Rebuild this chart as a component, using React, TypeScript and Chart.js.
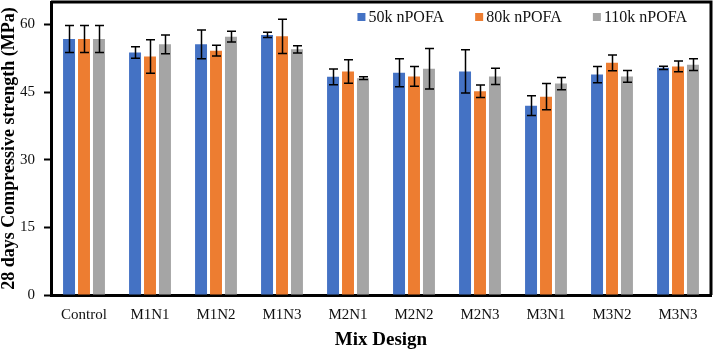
import React, { useEffect, useRef } from "react";
import { Chart, registerables } from "chart.js";

Chart.register(...registerables);

const categories = ["Control", "M1N1", "M1N2", "M1N3", "M2N1", "M2N2", "M2N3", "M3N1", "M3N2", "M3N3"];
const seriesNames = ["50k nPOFA", "80k nPOFA", "110k nPOFA"];
const values50 = [56.8, 53.8, 55.6, 57.7, 48.4, 49.3, 49.6, 42.0, 48.9, 50.4];
const values80 = [56.8, 52.9, 54.2, 57.4, 49.6, 48.5, 45.2, 44.0, 51.5, 50.7];
const values110 = [56.8, 55.6, 57.3, 54.5, 48.1, 50.2, 48.5, 46.9, 48.5, 51.1];
const errors50 = [3.0, 1.3, 3.2, 0.6, 1.75, 3.1, 4.8, 2.2, 1.8, 0.35];
const errors80 = [3.0, 3.7, 1.2, 3.8, 2.6, 2.2, 1.4, 2.9, 1.75, 1.2];
const errors110 = [3.0, 2.1, 1.2, 0.8, 0.3, 4.5, 1.8, 1.35, 1.3, 1.3];
const colors = ["#4472C4", "#ED7D31", "#A5A5A5"];
const yTickStep = 15;
const yMax = 65;

const FONT = "'Liberation Serif', 'Times New Roman', serif";

const errorBarPlugin = {
  id: "errorBars",
  afterDatasetsDraw(chart: any) {
    const ctx = chart.ctx;
    const yScale = chart.scales.y;
    const allErrors = [errors50, errors80, errors110];
    ctx.save();
    ctx.strokeStyle = "#000";
    ctx.lineWidth = 1.5;
    chart.data.datasets.forEach((ds: any, i: number) => {
      const meta = chart.getDatasetMeta(i);
      meta.data.forEach((el: any, j: number) => {
        const v = ds.data[j];
        const e = allErrors[i][j];
        const x = Math.round(el.x) + 0.5;
        const yt = yScale.getPixelForValue(v + e);
        const yb = yScale.getPixelForValue(v - e);
        const cap = 4.5;
        ctx.beginPath();
        ctx.moveTo(x, yt);
        ctx.lineTo(x, yb);
        ctx.moveTo(x - cap, yt);
        ctx.lineTo(x + cap, yt);
        ctx.moveTo(x - cap, yb);
        ctx.lineTo(x + cap, yb);
        ctx.stroke();
      });
    });
    ctx.restore();
  },
};

const framePlugin = {
  id: "frame",
  afterDraw(chart: any) {
    const { ctx, chartArea } = chart;
    ctx.save();
    ctx.strokeStyle = "#000";
    ctx.lineWidth = 3;
    ctx.beginPath();
    ctx.moveTo(chartArea.left, chartArea.top);
    ctx.lineTo(chartArea.right, chartArea.top);
    ctx.lineTo(chartArea.right, chartArea.bottom);
    ctx.stroke();
    ctx.restore();
  },
};

const legendPlugin = {
  id: "customLegend",
  afterDraw(chart: any) {
    const { ctx, chartArea } = chart;
    ctx.save();
    ctx.font = `16px ${FONT}`;
    ctx.textBaseline = "middle";
    const box = 8;
    const gapText = 3;
    const gapItem = 31;
    const datasets = chart.data.datasets;
    const widths = datasets.map((d: any) => box + gapText + ctx.measureText(d.label).width);
    const total = widths.reduce((a: number, b: number) => a + b, 0) + gapItem * (datasets.length - 1);
    let x = chartArea.right - 24 - total;
    const yc = chartArea.top + 15;
    datasets.forEach((d: any, i: number) => {
      ctx.fillStyle = d.backgroundColor;
      ctx.fillRect(x, yc - box / 2, box, box);
      ctx.fillStyle = "#111";
      ctx.fillText(d.label, x + box + gapText, yc + 1);
      x += widths[i] + gapItem;
    });
    ctx.restore();
  },
};

export default function App() {
  const canvasRef = useRef<HTMLCanvasElement | null>(null);

  useEffect(() => {
    if (!canvasRef.current) return;
    const seriesValues = [values50, values80, values110];
    const chart = new Chart(canvasRef.current, {
      type: "bar",
      data: {
        labels: categories,
        datasets: seriesNames.map((name, i) => ({
          label: name,
          data: seriesValues[i],
          backgroundColor: colors[i],
          borderWidth: 0,
          categoryPercentage: 0.68,
          barPercentage: 0.8,
        })),
      },
      options: {
        animation: false,
        responsive: true,
        maintainAspectRatio: false,
        layout: { padding: { top: 2, right: 2, left: 0, bottom: 0 } },
        plugins: {
          legend: { display: false },
          tooltip: { enabled: false },
        },
        scales: {
          x: {
            afterFit: (s: any) => {
              s.height = 55;
              s.paddingLeft = 0;
              s.paddingRight = 0;
            },
            grid: { display: false, drawTicks: false },
            border: { display: true, color: "#000", width: 3 },
            ticks: {
              color: "#111",
              font: { family: FONT, size: 15 },
              padding: 11,
              maxRotation: 0,
            },
            title: {
              display: true,
              text: "Mix Design",
              color: "#000",
              font: { family: FONT, size: 19, weight: "bold", lineHeight: 1 },
              padding: { top: 0, bottom: 0 },
            },
          },
          y: {
            min: 0,
            max: yMax,
            afterFit: (s: any) => {
              s.width = 51;
              s.paddingTop = 0;
              s.paddingBottom = 0;
            },
            grid: {
              drawOnChartArea: false,
              drawTicks: true,
              tickLength: 7,
              tickWidth: 2,
              color: "#000",
            },
            border: { display: true, color: "#000", width: 3 },
            ticks: {
              stepSize: yTickStep,
              includeBounds: false,
              color: "#111",
              font: { family: FONT, size: 15 },
              padding: 9,
            },
            title: {
              display: true,
              text: "28 days Compressive strength (MPa)",
              color: "#000",
              font: { family: FONT, size: 18, weight: "bold", lineHeight: 1 },
              padding: { top: 0, bottom: 0 },
            },
          },
        },
      },
      plugins: [errorBarPlugin, framePlugin, legendPlugin],
    });
    return () => chart.destroy();
  }, []);

  return (
    <div style={{ position: "absolute", left: 0, top: 0, width: 713, height: 350, background: "#fff" }}>
      <canvas ref={canvasRef} />
    </div>
  );
}
